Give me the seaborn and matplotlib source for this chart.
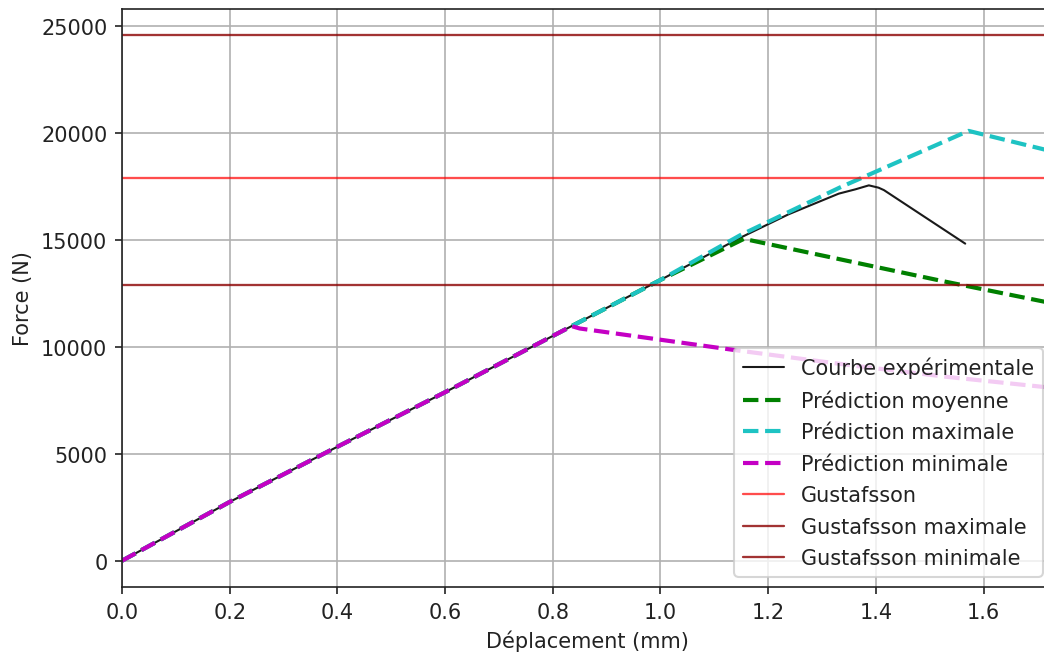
import matplotlib
matplotlib.use("Agg")
import matplotlib.pyplot as plt
import seaborn as sns

# Values (displacement in mm, force in N)
rise_x = [0.0, 0.2, 0.4, 0.6, 0.8, 0.835, 1.0]
rise_y = [0, 2750, 5330, 7880, 10510, 10970, 13130]

exp_x = rise_x + [1.148, 1.238, 1.331, 1.362, 1.387, 1.405, 1.415, 1.566]
exp_y = rise_y + [15100, 16200, 17164, 17366, 17552, 17444, 17330, 14827]

moy_x = rise_x + [1.155, 1.525, 1.729]
moy_y = rise_y + [15050, 13070, 12030]

max_x = rise_x + [1.148, 1.333, 1.572, 1.729]
max_y = rise_y + [15220, 17450, 20100, 19130]

min_x = rise_x[:6] + [0.85, 1.135, 1.35, 1.531, 1.729]
min_y = rise_y[:6] + [10860, 9860, 9150, 8600, 8080]

gustafsson = 17900
gustafsson_max = 24570
gustafsson_min = 12900

sns.set_style("ticks")
plt.rcParams["font.family"] = ["DejaVu Sans"]

W, H = 1044, 655
fig = plt.figure(figsize=(W / 150, H / 150), dpi=150)
ax = fig.add_axes([122 / W, 67 / H, 931 / W, 578 / H])

sns.lineplot(x=exp_x, y=exp_y, ax=ax, color="#1a1a1a", linewidth=1.0,
             sort=False, label="Courbe expérimentale")
sns.lineplot(x=moy_x, y=moy_y, ax=ax, color="green", linewidth=2.0,
             linestyle="--", sort=False, label="Prédiction moyenne")
sns.lineplot(x=max_x, y=max_y, ax=ax, color="#1ec3c3", linewidth=2.0,
             linestyle="--", sort=False, label="Prédiction maximale")
sns.lineplot(x=min_x, y=min_y, ax=ax, color="#c400c4", linewidth=2.0,
             linestyle="--", sort=False, label="Prédiction minimale")
ax.axhline(gustafsson, color="red", alpha=0.7, linewidth=1.1, label="Gustafsson")
ax.axhline(gustafsson_max, color="darkred", alpha=0.8, linewidth=1.1,
           label="Gustafsson maximale")
ax.axhline(gustafsson_min, color="darkred", alpha=0.8, linewidth=1.1,
           label="Gustafsson minimale")

ax.set_xlim(0, 1.729)
ax.set_ylim(-0.05 * gustafsson_max, 1.05 * gustafsson_max)
ax.set_xticks([0.0, 0.2, 0.4, 0.6, 0.8, 1.0, 1.2, 1.4, 1.6])
ax.set_yticks([0, 5000, 10000, 15000, 20000, 25000])
ax.grid(True, color="#b0b0b0", linewidth=0.8)
ax.set_axisbelow(True)
for s in ax.spines.values():
    s.set_color("#222222")
ax.tick_params(labelsize=10, length=3.5, width=0.8, color="#222222",
               labelcolor="#222222")

ax.set_xlabel("Déplacement (mm)", fontsize=10, color="#222222")
ax.set_ylabel("Force (N)", fontsize=10, color="#222222")

leg = ax.legend(loc="lower right", fontsize=10, framealpha=0.8,
                labelspacing=0.55)
for t in leg.get_texts():
    t.set_color("#222222")

fig.savefig("out.png", dpi=150)
